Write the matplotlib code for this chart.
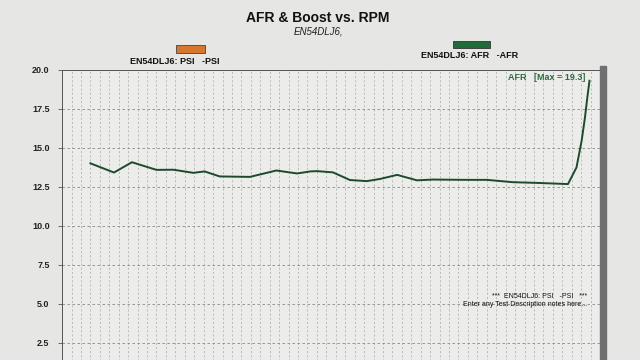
import numpy as np
import matplotlib
matplotlib.use("Agg")
import matplotlib.pyplot as plt
from matplotlib.patches import Rectangle

plt.rcParams['font.family'] = ['Liberation Sans', 'DejaVu Sans']

title = "AFR & Boost vs. RPM"
subtitle = "EN54DLJ6,"
psi_label = "EN54DLJ6: PSI   -PSI"
afr_label = "EN54DLJ6: AFR   -AFR"
max_label = "AFR   [Max = 19.3]"
note1 = "***  EN54DLJ6: PSI   -PSI   ***"
note2 = "Enter any Test Description notes here..."

rpm = [1800, 2050, 2240, 2500, 2680, 2890, 3010, 3170, 3490, 3770, 3990,
       4130, 4200, 4370, 4550, 4730, 4870, 5050, 5260, 5430, 5790, 6000,
       6280, 6560, 6860, 6950, 7005, 7040, 7065, 7088]
afr = [14.01, 13.42, 14.08, 13.59, 13.60, 13.40, 13.49, 13.17, 13.14, 13.55, 13.36,
       13.49, 13.51, 13.43, 12.94, 12.87, 13.01, 13.27, 12.92, 12.97, 12.95, 12.95,
       12.80, 12.75, 12.68, 13.74, 15.46, 16.95, 18.23, 19.3]

yticks = [2.5, 5.0, 7.5, 10.0, 12.5, 15.0, 17.5, 20.0]
ytick_labels = ["2.5", "5.0", "7.5", "10.0", "12.5", "15.0", "17.5", "20.0"]

paper = "#e6e6e4"
fig = plt.figure(figsize=(6.4, 3.6), dpi=100, facecolor=paper)
ax = fig.add_axes([0.097, -0.061, 0.8406, 0.867])
ax.set_facecolor("#ececea")

ax.set_xlim(1500, 7200)
ax.set_ylim(0, 20)
ax.set_yticks(yticks)
ax.set_yticklabels(ytick_labels, fontsize=6.5, fontweight='bold', color="#222222")
ax.set_xticks(np.arange(1500, 7201, 100))
ax.tick_params(axis='x', length=0, labelbottom=False)
ax.tick_params(axis='y', length=3, width=0.6, color="#555555", pad=6)

ax.grid(axis='y', linestyle=(0, (3, 3)), color="#888888", linewidth=0.6)
ax.grid(axis='x', linestyle=(0, (3, 3)), color="#a8a8a8", linewidth=0.5)
for s in ax.spines.values():
    s.set_color("#555555")
    s.set_linewidth(0.7)

ax.plot(rpm, afr, color="#1c4a2c", linewidth=1.4, zorder=3)

fig.text(585/640, 1-77/360, max_label, ha='right', va='center',
         fontsize=6.5, fontweight='bold', color="#2e6b40")

# right-hand shadow of the chart frame
fig.patches.append(Rectangle((600/640, 0), 6/640, (360-66)/360, transform=fig.transFigure,
                             color="#6f6f6f", zorder=0))

fig.text(0.497, 0.95, title, ha='center', va='center', fontsize=10, fontweight='bold', color="#111111")
fig.text(0.497, 0.912, subtitle, ha='center', va='center', fontsize=7, style='italic', color="#222222")

# legend
fig.patches.append(Rectangle((176/640, 1-53/360), 29/640, 8/360, transform=fig.transFigure,
                             facecolor="#d9762e", edgecolor="#444444", linewidth=0.6))
fig.text(175/640, 1-61/360, psi_label, ha='center', va='center', fontsize=6.5, fontweight='bold', color="#111111")
fig.patches.append(Rectangle((453/640, 1-48/360), 37/640, 7/360, transform=fig.transFigure,
                             facecolor="#1f6b3a", edgecolor="#333333", linewidth=0.6))
fig.text(470/640, 1-56/360, afr_label, ha='center', va='center', fontsize=6.5, fontweight='bold', color="#111111")

fig.text(587/640, 1-296/360, note1, ha='right', va='center', fontsize=5, color="#111111")
fig.text(587/640, 1-304/360, note2, ha='right', va='center', fontsize=5, color="#111111")

fig.savefig("out.png", dpi=100, facecolor=paper)
